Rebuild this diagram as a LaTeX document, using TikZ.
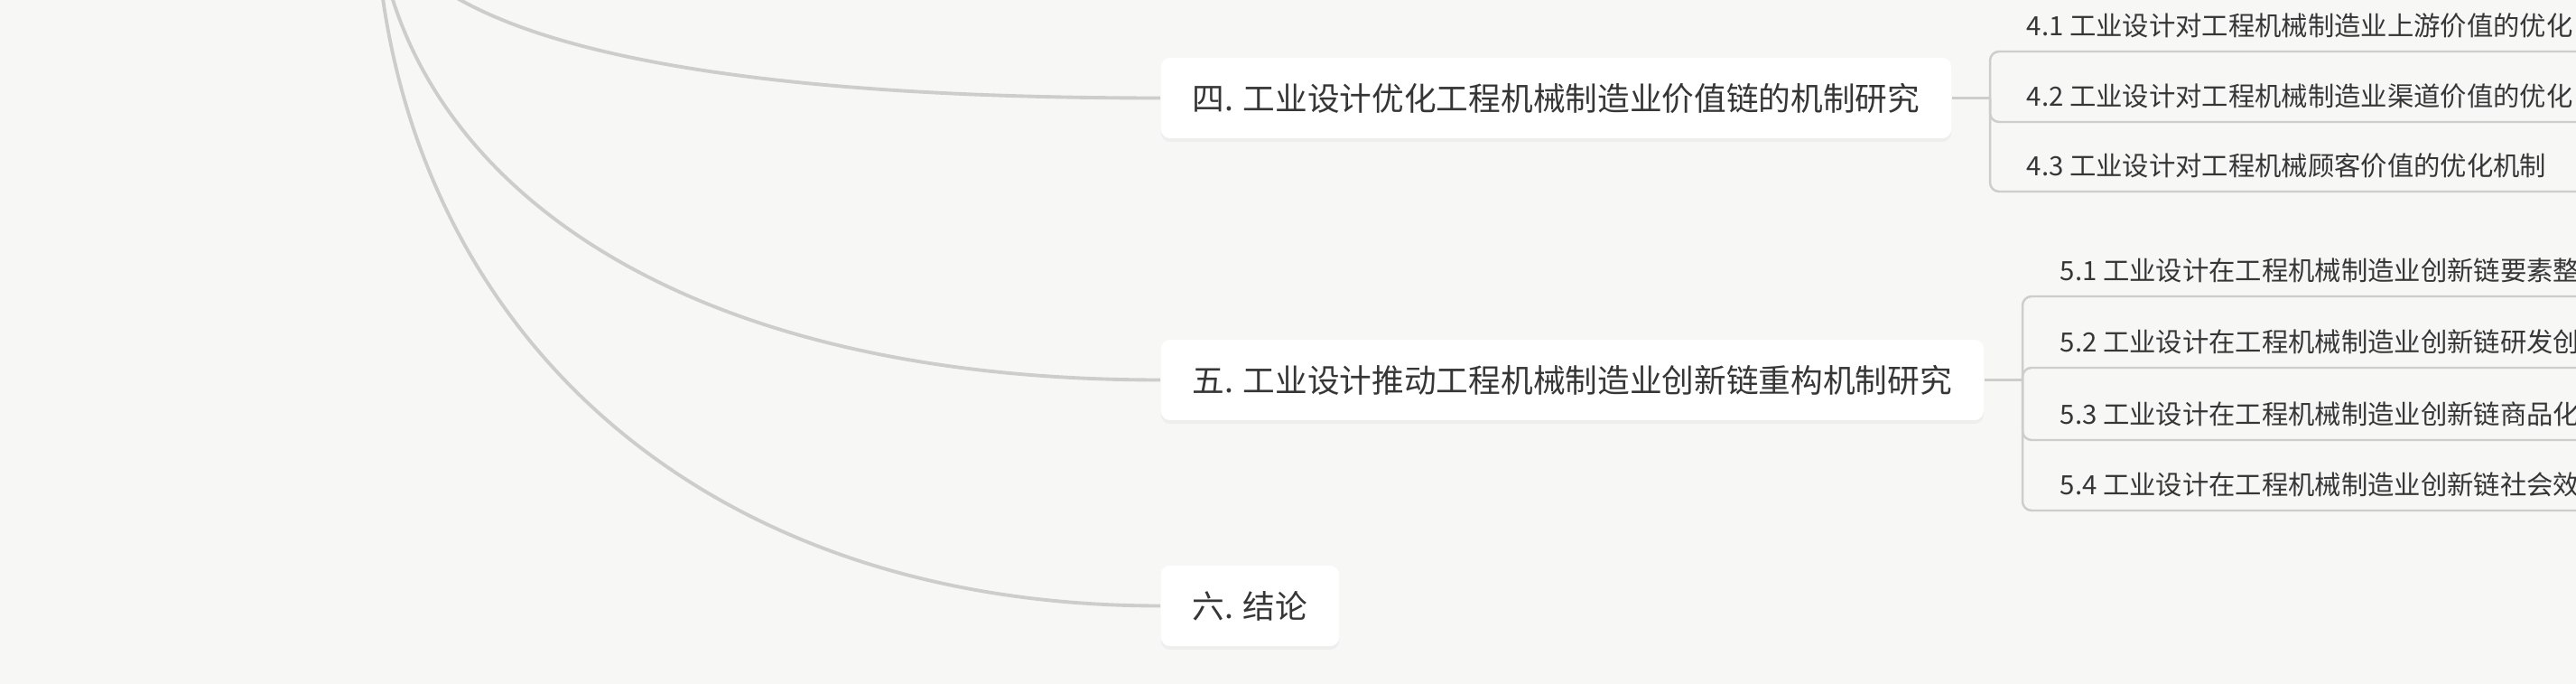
\documentclass[tikz,border=0pt]{standalone}
\usepackage{fontspec}
\setmainfont{Noto Sans CJK SC}
\usetikzlibrary{shadows}
\definecolor{bg}{HTML}{F7F8F6}
\definecolor{ink}{HTML}{363636}
\definecolor{wire}{HTML}{CDCDCB}
\begin{document}
\begin{tikzpicture}[topic/.style = {fill=white, rounded corners=0.1cm, anchor=west, minimum height=0.89cm, inner xsep=0.35cm, text=ink, font=\fontsize{10.15pt}{12pt}\selectfont, drop shadow={opacity=0.07, shadow xshift=0pt, shadow yshift=-0.04cm}}, sub/.style = {anchor=south west, inner xsep=0pt, inner ysep=0.14cm, text height=0.23cm, text depth=0.03cm, text=ink, font=\fontsize{8.35pt}{10pt}\selectfont}, trunk/.style = {draw=wire, line width=1.1pt}, branch/.style = {draw=wire, line width=0.7pt, rounded corners=0.1cm}]
        \useasboundingbox (0,0) rectangle (28.53,-7.57);
        \fill[bg] (0,0) rectangle (28.53,-7.57);
        \begin{scope}
        \clip (0,0) rectangle (28.53,-7.57);
        \coordinate (root) at (4.15,1.30);
        \coordinate (edge) at (29,0);
        \coordinate (j4) at (22.04,-1.085);
        \coordinate (j5) at (22.40,-4.205);
        \draw[trunk] (root) to[out=-90, in=180, out distance=1.5cm, in distance=6cm] (12.85,-1.085);
        \draw[trunk] (root) to[out=-90, in=180, out distance=2.8cm, in distance=6cm] (12.85,-4.205);
        \draw[trunk] (root) to[out=-90, in=180, out distance=4.5cm, in distance=5.5cm] (12.85,-6.705);
        \node[topic] (m4) at (12.85,-1.085) {四. 工业设计优化工程机械制造业价值链的机制研究};
        \node[topic] (m5) at (12.85,-4.205) {五. 工业设计推动工程机械制造业创新链重构机制研究};
        \node[topic] (m6) at (12.85,-6.705) {六. 结论};
        \node[sub] (c41) at (22.44,-0.57) {4.1 工业设计对工程机械制造业上游价值的优化};
        \node[sub] (c42) at (22.44,-1.35) {4.2 工业设计对工程机械制造业渠道价值的优化};
        \node[sub] (c43) at (22.44,-2.12) {4.3 工业设计对工程机械顾客价值的优化机制};
        \node[sub] (c51) at (22.81,-3.28) {5.1 工业设计在工程机械制造业创新链要素整};
        \node[sub] (c52) at (22.81,-4.07) {5.2 工业设计在工程机械制造业创新链研发创};
        \node[sub] (c53) at (22.81,-4.87) {5.3 工业设计在工程机械制造业创新链商品化};
        \node[sub] (c54) at (22.81,-5.65) {5.4 工业设计在工程机械制造业创新链社会效};
        \draw[branch] (m4.east) -- (j4);
        \draw[branch] (m5.east) -- (j5);
        \draw[branch] (j4) |- (c41.south west) -- (c41.south west -| edge);
        \draw[branch] (j4) |- (c42.south west) -- (c42.south west -| edge);
        \draw[branch] (j4) |- (c43.south west) -- (c43.south west -| edge);
        \draw[branch] (j5) |- (c51.south west) -- (c51.south west -| edge);
        \draw[branch] (j5) |- (c52.south west) -- (c52.south west -| edge);
        \draw[branch] (j5) |- (c53.south west) -- (c53.south west -| edge);
        \draw[branch] (j5) |- (c54.south west) -- (c54.south west -| edge);
        \end{scope}
    \end{tikzpicture}
\end{document}
